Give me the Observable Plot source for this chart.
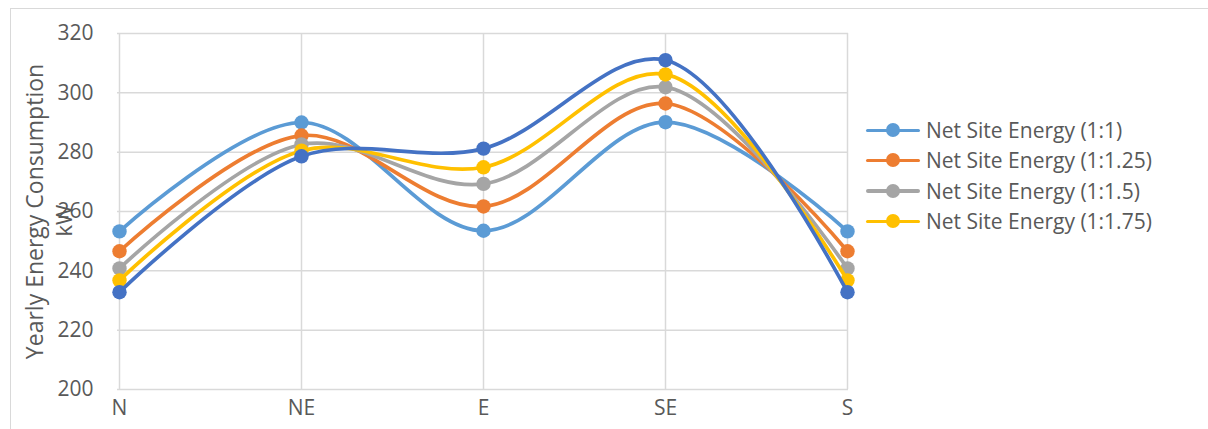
<!DOCTYPE html>
<html>
<head>
<meta charset="utf-8">
<script src="https://cdn.jsdelivr.net/npm/d3@7"></script>
<script src="https://cdn.jsdelivr.net/npm/@observablehq/plot@0.6"></script>
<style>
  html, body { margin: 0; padding: 0; background: #fff; }
  #wrap { position: relative; width: 1208px; height: 429px; overflow: hidden; font-family: "Open Sans", sans-serif; }
  #frame { position: absolute; left: 10px; top: 8px; width: 1300px; height: 500px; border-left: 1.5px solid #d9d9d9; border-top: 1.5px solid #d9d9d9; }
  #chart { position: absolute; left: 0; top: 0; }
  #legend { position: absolute; left: 866px; top: 115px; }
  .row { display: flex; align-items: center; height: 30.3px; color: #595959; font-size: 21px; white-space: nowrap; }
  .sw { position: relative; width: 54px; height: 14px; margin-right: 6px; flex: none; }
  .sw .ln { position: absolute; left: 0; top: 5.5px; width: 54px; height: 3.5px; border-radius: 2px; }
  .sw .dt { position: absolute; left: 20px; top: 0; width: 14px; height: 14px; border-radius: 50%; }
</style>
</head>
<body>
<div id="wrap">
  <div id="frame"></div>
  <div id="chart"></div>
  <div id="legend"></div>
</div>
<script>
const categories = ["N", "NE", "E", "SE", "S"];
const seriesNames = [
  "Net Site Energy (1:1)",
  "Net Site Energy (1:1.25)",
  "Net Site Energy (1:1.5)",
  "Net Site Energy (1:1.75)",
  "Net Site Energy (1:2)"
];
const seriesColors = ["#5B9BD5", "#ED7D31", "#A5A5A5", "#FFC000", "#4472C4"];
const s1 = [253.3, 290.0, 253.5, 290.1, 253.3];
const s125 = [246.6, 285.6, 261.7, 296.4, 246.6];
const s15 = [240.8, 282.6, 269.3, 301.9, 240.8];
const s175 = [236.8, 280.5, 274.9, 306.2, 236.8];
const s2 = [232.8, 278.6, 281.2, 311.0, 232.8];
const legendShown = 4;
const yTicks = [200, 220, 240, 260, 280, 300, 320];
const yTitle = "Yearly Energy Consumption";
const yUnit = "kW";

const allSeries = [s1, s125, s15, s175, s2];
const rows = [];
allSeries.forEach((vals, si) => {
  vals.forEach((v, ci) => rows.push({series: seriesNames[si], cat: categories[ci], value: v, order: si}));
});

const marks = [
  Plot.gridY(yTicks, {stroke: "#d9d9d9", strokeOpacity: 1, strokeWidth: 1.5}),
  Plot.gridX(categories, {stroke: "#d9d9d9", strokeOpacity: 1, strokeWidth: 1.5}),
  Plot.axisY(yTicks, {tickSize: 0, tickPadding: 24, fontSize: 21, fill: "#595959", tickFormat: d => String(d), label: null}),
  Plot.axisX({tickSize: 0, tickPadding: 11, fontSize: 21, fill: "#595959", label: null}),
  Plot.text([yTitle], {frameAnchor: "left", dx: -82, dy: 0, rotate: -90, textAnchor: "middle", fontSize: 23, fill: "#595959"}),
  Plot.text([yUnit], {frameAnchor: "left", dx: -53, dy: 9, rotate: -90, textAnchor: "middle", fontSize: 22, fill: "#595959"})
];
seriesNames.forEach((name, si) => {
  const d = rows.filter(r => r.order === si);
  marks.push(Plot.line(d, {x: "cat", y: "value", stroke: seriesColors[si], strokeWidth: 3.7, curve: "catmull-rom"}));
  marks.push(Plot.dot(d, {x: "cat", y: "value", fill: seriesColors[si], r: 7.2}));
});

const chart = Plot.plot({
  width: 1208,
  height: 429,
  marginLeft: 117,
  marginRight: 360,
  marginTop: 33,
  marginBottom: 40,
  style: {fontFamily: "'Open Sans', sans-serif", background: "transparent", overflow: "visible"},
  x: {type: "point", domain: categories, padding: 0, label: null},
  y: {domain: [200, 320], label: null},
  marks
});
document.getElementById("chart").appendChild(chart);

const legend = document.getElementById("legend");
seriesNames.slice(0, legendShown).forEach((name, i) => {
  const row = document.createElement("div");
  row.className = "row";
  row.innerHTML = `<div class="sw"><div class="ln" style="background:${seriesColors[i]}"></div><div class="dt" style="background:${seriesColors[i]}"></div></div><span>${name}</span>`;
  legend.appendChild(row);
});
</script>
</body>
</html>
